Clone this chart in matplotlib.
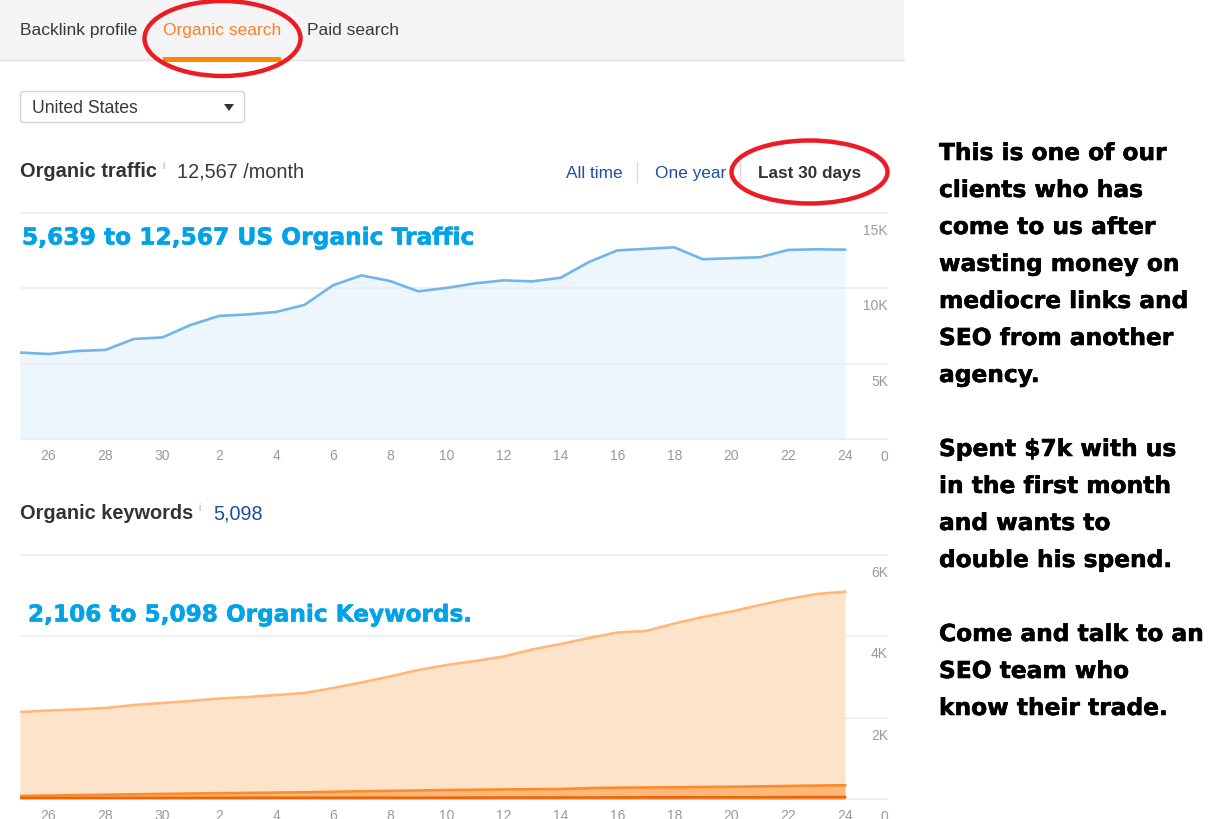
"""
Organic search dashboard screenshot: traffic and keywords over the last 30 days.
"""

import matplotlib.pyplot as plt
import matplotlib.patheffects as pe
from matplotlib.patches import Ellipse, FancyBboxPatch, Polygon, Rectangle

W, H = 1228, 819
UI_FONT = "Liberation Sans"

days = [25, 26, 27, 28, 29, 30, 1, 2, 3, 4, 5, 6, 7, 8, 9, 10, 11, 12, 13, 14,
        15, 16, 17, 18, 19, 20, 21, 22, 23, 24]

organic_traffic = [5740, 5640, 5840, 5910, 6640, 6740, 7570, 8170, 8270, 8430,
                   8900, 10200, 10860, 10490, 9800, 10030, 10330, 10530, 10460, 10700,
                   11750, 12520, 12620, 12720, 11930, 12000, 12060, 12550, 12590, 12567]

keywords_total = [2139, 2176, 2201, 2238, 2311, 2361, 2410, 2471, 2508, 2557,
                  2606, 2729, 2865, 3012, 3172, 3295, 3393, 3504, 3676, 3811,
                  3959, 4094, 4131, 4315, 4475, 4610, 4770, 4918, 5040, 5098]
keywords_top10 = [74, 85, 95, 105, 115, 125, 135, 142, 150, 158,
                  165, 178, 190, 200, 210, 221, 228, 235, 240, 245,
                  268, 278, 283, 288, 295, 302, 310, 320, 330, 337]
keywords_top3 = [25, 26, 27, 27, 28, 29, 29, 30, 30, 31,
                 31, 31, 32, 32, 32, 33, 34, 35, 36, 37,
                 38, 39, 40, 41, 42, 43, 44, 45, 47, 49]

traffic_ticks = [0, 5000, 10000, 15000]
traffic_tick_labels = ["0", "5K", "10K", "15K"]
keyword_ticks = [0, 2000, 4000, 6000]
keyword_tick_labels = ["0", "2K", "4K", "6K"]

side_text = [
    (152, "This is one of our"),
    (189, "clients who has"),
    (226, "come to us after"),
    (263, "wasting money on"),
    (300, "mediocre links and"),
    (337, "SEO from another"),
    (374, "agency."),
    (448, "Spent $7k with us"),
    (485, "in the first month"),
    (522, "and wants to"),
    (559, "double his spend."),
    (633, "Come and talk to an"),
    (670, "SEO team who"),
    (707, "know their trade."),
]


def make_axes(fig, top, bottom, ymax):
    # pixel box -> figure fraction, one day is 28.45 px wide
    ax = fig.add_axes([20 / W, 1 - bottom / H, 868 / W, (bottom - top) / H])
    ax.set_xlim(0, 868 / 28.45)
    ax.set_ylim(0, ymax)
    for spine in ax.spines.values():
        spine.set_visible(False)
    ax.patch.set_alpha(0)
    return ax


def style_axes(ax, yticks, ylabels):
    ax.set_yticks([])
    ax.set_xticks(range(1, len(days), 2))
    ax.set_xticklabels([str(days[i]) for i in range(1, len(days), 2)],
                       fontsize=10, color="#9a9a9a", family=UI_FONT)
    ax.tick_params(axis="x", length=0, pad=7.5)
    for val, lab in zip(yticks, ylabels):
        ax.axhline(val, color="#eceef1", linewidth=1.2, zorder=1, clip_on=False,
                   solid_capstyle="butt")
        ax.annotate(lab, (1, val), xycoords=ax.get_yaxis_transform(),
                    xytext=(0, -18), textcoords="offset pixels",
                    ha="right", va="center", fontsize=10, color="#9a9a9a",
                    family=UI_FONT, annotation_clip=False)


def main():
    fig = plt.figure(figsize=(W / 100, H / 100), dpi=100, facecolor="white")

    # page furniture is laid out in screen pixels
    page = fig.add_axes([0, 0, 1, 1])
    page.set_xlim(0, W)
    page.set_ylim(H, 0)
    page.axis("off")

    page.add_patch(Rectangle((0, 0), 904, 60, facecolor="#f4f4f6", edgecolor="none"))
    page.plot([0, 904], [60.3, 60.3], color="#e2e2e2", linewidth=1)
    page.add_patch(Rectangle((163, 57), 118, 4.5, facecolor="#ff8800", edgecolor="none", zorder=5))

    def ui(x, y, s, size=12.5, color="#3a3a3a", weight="normal"):
        # y is the text baseline
        page.text(x, y, s, fontsize=size, color=color, fontweight=weight,
                  family=UI_FONT, ha="left", va="baseline")

    ui(20, 35, "Backlink profile")
    ui(163, 35, "Organic search", color="#ff7f27")
    ui(307, 35, "Paid search")

    page.add_patch(FancyBboxPatch((20.5, 91.5), 224, 31, boxstyle="round,pad=0,rounding_size=3",
                                  facecolor="white", edgecolor="#d4d4d4", linewidth=1))
    ui(32, 113, "United States", size=12.7)
    page.add_patch(Polygon([(224, 104), (234, 104), (229, 111)], facecolor="#333333"))

    ui(20, 177, "Organic traffic", size=14.4, weight="bold", color="#333333")
    ui(162, 169, "i", size=7, color="#aaaaaa")
    ui(177, 177, "12,567 /month", size=14.3)
    ui(566, 178, "All time", size=12.4, color="#1f4e9c")
    page.plot([637, 637], [162, 182], color="#d9d9d9", linewidth=1)
    ui(655, 178, "One year", size=12.4, color="#1f4e9c")
    page.plot([740, 740], [162, 182], color="#d9d9d9", linewidth=1)
    ui(758, 178, "Last 30 days", size=12.3, weight="bold", color="#333333")

    ui(20, 519, "Organic keywords", size=14.4, weight="bold", color="#333333")
    ui(198, 511, "i", size=7, color="#aaaaaa")
    ui(213, 519, "5,098", size=14.3, color="#1f4e9c")

    # traffic chart, grid shows faintly through the fill
    ax1 = make_axes(fig, 213, 439, 15000)
    x = list(range(len(days)))
    ax1.fill_between(x, organic_traffic, color="#dfeefc", alpha=0.5, linewidth=0, zorder=2)
    ax1.plot(x, organic_traffic, color="#72b5ea", linewidth=1.9, zorder=4)
    style_axes(ax1, traffic_ticks, traffic_tick_labels)

    # keywords chart, layers stacked back to front
    ax2 = make_axes(fig, 555, 799, 6000)
    ax2.fill_between(x, keywords_total, color="#fee3cb", linewidth=0, zorder=2)
    ax2.plot(x, keywords_total, color="#ffb87c", linewidth=1.9, zorder=4)
    ax2.fill_between(x, keywords_top10, color="#ffb77a", linewidth=0, zorder=4)
    ax2.plot(x, keywords_top10, color="#ff8a2b", linewidth=1.9, zorder=5)
    ax2.fill_between(x, keywords_top3, color="#ff9f50", linewidth=0, zorder=5)
    ax2.plot(x, keywords_top3, color="#e8690b", linewidth=1.9, zorder=6)
    style_axes(ax2, keyword_ticks, keyword_tick_labels)

    # pasted-on callouts and notes go above the charts
    notes = fig.add_axes([0, 0, 1, 1], zorder=10)
    notes.set_xlim(0, W)
    notes.set_ylim(H, 0)
    notes.axis("off")
    notes.patch.set_alpha(0)

    notes.text(22, 238, "5,639 to 12,567 US Organic Traffic", fontsize=16.8, fontweight="bold",
               color="#00a2e8", family="DejaVu Sans", va="center",
               path_effects=[pe.withStroke(linewidth=0.4, foreground="#00a2e8")])
    notes.text(28, 615, "2,106 to 5,098 Organic Keywords.", fontsize=16.7, fontweight="bold",
               color="#00a2e8", family="DejaVu Sans", va="center",
               path_effects=[pe.withStroke(linewidth=0.4, foreground="#00a2e8")])

    for y, line in side_text:
        notes.text(939, y + 1.5, line, fontsize=16.8, fontweight="bold", color="black",
                   family="DejaVu Sans", va="center",
                   path_effects=[pe.withStroke(linewidth=0.4, foreground="black")])

    notes.add_patch(Ellipse((222.5, 38.5), 156, 75, facecolor="none", edgecolor="#ed1c24", linewidth=3.2))
    notes.add_patch(Ellipse((809.5, 172), 156, 63, facecolor="none", edgecolor="#ed1c24", linewidth=3.2))

    fig.savefig("out.png", dpi=100)
    plt.close(fig)


if __name__ == "__main__":
    main()
